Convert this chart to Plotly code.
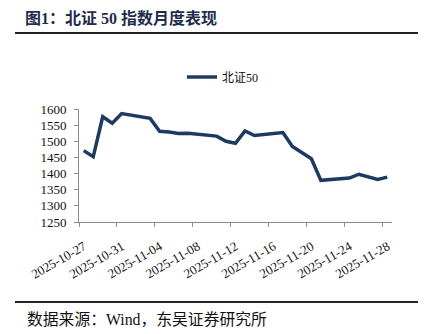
import pandas as pd
import plotly.graph_objects as go

# 北证50 daily close, Oct 27 – Nov 28 2025
dates = ["2025-10-27", "2025-10-28", "2025-10-29", "2025-10-30", "2025-10-31",
         "2025-11-03", "2025-11-04", "2025-11-05", "2025-11-06", "2025-11-07",
         "2025-11-10", "2025-11-11", "2025-11-12", "2025-11-13", "2025-11-14",
         "2025-11-17", "2025-11-18", "2025-11-19", "2025-11-20", "2025-11-21",
         "2025-11-24", "2025-11-25", "2025-11-26", "2025-11-27", "2025-11-28"]
values = [1471, 1452, 1576, 1556, 1586,
          1571, 1531, 1529, 1524, 1525,
          1516, 1500, 1494, 1532, 1518,
          1527, 1484, 1464, 1446, 1379,
          1386, 1398, 1390, 1382, 1389]

tick_dates = ["2025-10-27", "2025-10-31", "2025-11-04", "2025-11-08", "2025-11-12",
              "2025-11-16", "2025-11-20", "2025-11-24", "2025-11-28"]
y_ticks = [1250, 1300, 1350, 1400, 1450, 1500, 1550, 1600]

series_name = "北证50"
title_text = "图1：北证 50 指数月度表现"
source_text = "数据来源：Wind，东吴证券研究所"

W, H = 434, 334
ML, MR, MT, MB = 79, 42, 109, 112
PW, PH = W - ML - MR, H - MT - MB


def px_x(px):
    return (px - ML) / PW


def px_y(py):
    return (H - MB - py) / PH


LINE = "#1d3a62"
SERIF_CJK = "Liberation Serif, Noto Sans CJK SC"

# each trading day sits in the middle of its one-day slot on the date axis
x_vals = pd.to_datetime(dates) + pd.Timedelta(hours=12)

fig = go.Figure()
fig.add_trace(go.Scatter(
    x=x_vals, y=values, mode="lines", name=series_name,
    line=dict(color=LINE, width=3.5),
))

fig.update_layout(
    width=W, height=H,
    margin=dict(l=ML, r=MR, t=MT, b=MB, pad=0),
    paper_bgcolor="white", plot_bgcolor="white",
    font=dict(family=SERIF_CJK, size=13, color="#111111"),
    title=dict(
        text="<b>" + title_text + "</b>",
        xref="container", yref="container",
        x=25 / W, xanchor="left", y=1 - 18 / H, yanchor="middle",
        font=dict(family=SERIF_CJK, size=16, color="#1f2d4d"),
    ),
    showlegend=True,
    legend=dict(
        orientation="h",
        x=px_x(182), xanchor="left", y=px_y(77), yanchor="middle",
        font=dict(family=SERIF_CJK, size=12, color="#111111"),
        bgcolor="rgba(0,0,0,0)", itemwidth=30,
    ),
    xaxis=dict(
        type="date",
        range=["2025-10-27", "2025-11-29"],
        tickmode="array", tickvals=tick_dates, ticktext=tick_dates,
        tickangle=-30,
        showgrid=False, zeroline=False,
        showline=True, linecolor="#8c8c8c", linewidth=1,
        ticks="outside", ticklen=4, tickcolor="#8c8c8c",
        ticklabelstandoff=7, ticklabelshift=5,
        tickfont=dict(family="Liberation Serif", size=13, color="#111111"),
    ),
    yaxis=dict(
        range=[1250, 1600],
        tickmode="array", tickvals=y_ticks,
        showgrid=False, zeroline=False,
        showline=True, linecolor="#8c8c8c", linewidth=1,
        ticks="outside", ticklen=4, tickcolor="#8c8c8c",
        ticklabelstandoff=5,
        tickfont=dict(family="Liberation Serif", size=13, color="#111111"),
    ),
    shapes=[
        dict(type="line", xref="paper", yref="paper",
             x0=px_x(15), x1=px_x(418), y0=px_y(33), y1=px_y(33),
             line=dict(color="#222222", width=2)),
        dict(type="line", xref="paper", yref="paper",
             x0=px_x(15), x1=px_x(418), y0=px_y(302), y1=px_y(302),
             line=dict(color="#222222", width=2)),
    ],
    annotations=[
        dict(text=source_text, xref="paper", yref="paper",
             x=px_x(25), xanchor="left", y=px_y(319), yanchor="middle",
             showarrow=False,
             font=dict(family=SERIF_CJK, size=15.8, color="#111111")),
    ],
)

fig.write_html("out.html")
